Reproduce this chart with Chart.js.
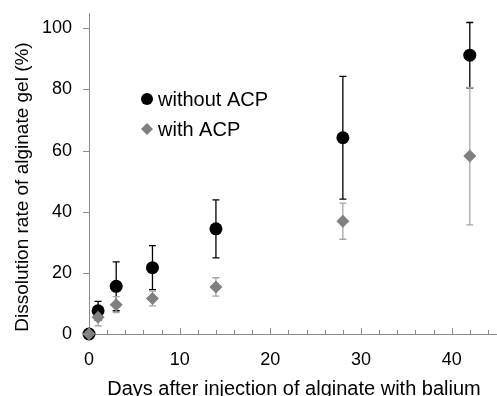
<!DOCTYPE html>
<html>
<head>
<meta charset="utf-8">
<script src="https://cdn.jsdelivr.net/npm/chart.js@4/dist/chart.umd.min.js"></script>
<style>
html,body{margin:0;padding:0;background:#fff;}
#wrap{width:497px;height:396px;position:relative;}
</style>
</head>
<body>
<div id="wrap"><canvas id="c" width="497" height="396"></canvas></div>
<script>
const days = [0, 1, 3, 7, 14, 28, 42];
const withoutACP = [0, 7.6, 15.6, 21.7, 34.4, 64.2, 91.2];
const withoutErr = [0, 3.1, 8.0, 7.2, 9.5, 20.1, 10.7];
const withACP = [0, 5.5, 9.6, 11.6, 15.4, 36.9, 58.2];
const withErr = [0, 2.8, 2.6, 2.4, 3.0, 5.9, 22.5];
const seriesLabels = ['without ACP', 'with ACP'];
const xTitle = 'Days after injection of alginate with balium';
const yTitle = 'Dissolution rate of alginate gel (%)';

const FONT = '"Liberation Sans", Arial, sans-serif';
const BLACK = '#000000';
const GRAY = '#808080';
const GRAY_BAR = '#a6a6a6';
const AXIS = '#8c8c8c';

function pts(ys) { return days.map((d, i) => ({x: d, y: ys[i]})); }

const errorBars = {
  id: 'errorBars',
  beforeDatasetsDraw(chart) {
    const ctx = chart.ctx, xs = chart.scales.x, ys = chart.scales.y;
    const sets = [[withoutACP, withoutErr, BLACK], [withACP, withErr, GRAY_BAR]];
    ctx.save();
    sets.forEach(([vals, errs, col]) => {
      ctx.strokeStyle = col;
      ctx.lineWidth = 1.3;
      days.forEach((d, i) => {
        if (!errs[i]) return;
        const px = xs.getPixelForValue(d);
        const top = ys.getPixelForValue(vals[i] + errs[i]);
        const bot = ys.getPixelForValue(vals[i] - errs[i]);
        ctx.beginPath();
        ctx.moveTo(px, top); ctx.lineTo(px, bot);
        ctx.moveTo(px - 3.5, top); ctx.lineTo(px + 3.5, top);
        ctx.moveTo(px - 3.5, bot); ctx.lineTo(px + 3.5, bot);
        ctx.stroke();
      });
    });
    ctx.restore();
  }
};

const decor = {
  id: 'decor',
  afterDraw(chart) {
    const ctx = chart.ctx, xs = chart.scales.x, ys = chart.scales.y;
    const area = chart.chartArea;
    ctx.save();
    ctx.strokeStyle = AXIS;
    ctx.lineWidth = 1;
    ys.ticks.forEach(t => {
      const py = Math.round(ys.getPixelForValue(t.value)) + 0.5;
      ctx.beginPath(); ctx.moveTo(area.left - 6, py); ctx.lineTo(area.left, py); ctx.stroke();
    });
    xs.ticks.forEach(t => {
      const px = Math.round(xs.getPixelForValue(t.value)) + 0.5;
      const len = t.value % 10 === 0 ? 6 : 4;
      ctx.beginPath(); ctx.moveTo(px, area.bottom); ctx.lineTo(px, area.bottom - len); ctx.stroke();
    });
    ctx.fillStyle = '#000';
    ctx.font = '20px ' + FONT;
    ctx.textAlign = 'center';
    ctx.textBaseline = 'alphabetic';
    ctx.fillText(xTitle, (area.left + area.right) / 2 + 1, 395);
    ctx.save();
    ctx.translate(28, 187);
    ctx.rotate(-Math.PI / 2);
    ctx.font = '19px ' + FONT;
    ctx.fillText(yTitle, 0, 0);
    ctx.restore();
    const lx = 147;
    const rows = [[99, 'circle', BLACK, seriesLabels[0]], [129, 'diamond', GRAY, seriesLabels[1]]];
    rows.forEach(([ly, shape, col, txt]) => {
      ctx.fillStyle = col;
      ctx.beginPath();
      if (shape === 'circle') {
        ctx.arc(lx, ly, 6, 0, Math.PI * 2);
      } else {
        ctx.moveTo(lx, ly - 6); ctx.lineTo(lx + 6, ly); ctx.lineTo(lx, ly + 6); ctx.lineTo(lx - 6, ly); ctx.closePath();
      }
      ctx.fill();
      ctx.fillStyle = '#000';
      ctx.font = '20px ' + FONT;
      ctx.textAlign = 'left';
      ctx.textBaseline = 'middle';
      ctx.fillText(txt, 158, ly + 1);
    });
    ctx.restore();
  }
};

function zeroPad(s) { s.paddingTop = 0; s.paddingBottom = 0; s.paddingLeft = 0; s.paddingRight = 0; }

new Chart(document.getElementById('c'), {
  type: 'scatter',
  data: {
    datasets: [
      {label: seriesLabels[0], data: pts(withoutACP), pointStyle: 'circle', pointRadius: 6.5,
       backgroundColor: BLACK, borderColor: BLACK, borderWidth: 0, order: 2, clip: false},
      {label: seriesLabels[1], data: pts(withACP), pointStyle: 'rectRot', pointRadius: 6.5,
       backgroundColor: GRAY, borderColor: GRAY, borderWidth: 0, order: 1, clip: false}
    ]
  },
  options: {
    responsive: false,
    animation: false,
    devicePixelRatio: 1,
    layout: {autoPadding: false, padding: {top: 13, right: 0, left: 0, bottom: 0}},
    plugins: {legend: {display: false}, tooltip: {enabled: false}},
    scales: {
      x: {
        type: 'linear', min: 0, max: 45,
        grid: {display: true, drawOnChartArea: false, drawTicks: false},
        border: {display: true, color: AXIS, width: 1},
        ticks: {stepSize: 2, includeBounds: false, autoSkip: false, maxRotation: 0,
                padding: 15, color: '#000', font: {family: FONT, size: 18},
                callback: v => (v % 10 === 0 ? String(v) : '')},
        afterFit: s => { s.height = 62; zeroPad(s); }
      },
      y: {
        type: 'linear', min: 0, max: 105,
        grid: {display: true, drawOnChartArea: false, drawTicks: false},
        border: {display: true, color: AXIS, width: 1},
        ticks: {stepSize: 20, includeBounds: false, padding: 17, color: '#000',
                font: {family: FONT, size: 18}},
        afterFit: s => { s.width = 89; zeroPad(s); }
      }
    }
  },
  plugins: [errorBars, decor]
});
</script>
</body>
</html>
